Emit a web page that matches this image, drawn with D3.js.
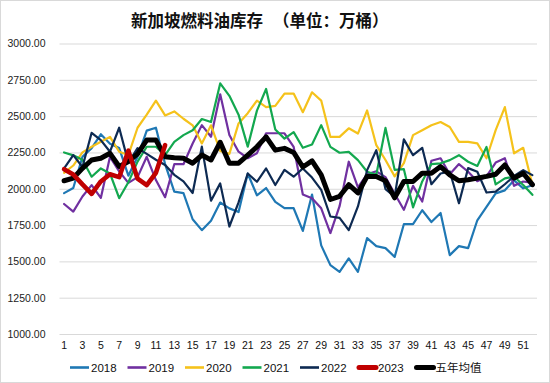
<!DOCTYPE html>
<html>
<head>
<meta charset="utf-8">
<script src="https://cdn.jsdelivr.net/npm/d3@7"></script>
<style>
html,body{margin:0;padding:0;background:#fff;}
svg{display:block;}
text{font-family:"Liberation Sans",Arial,"Noto Sans CJK SC",sans-serif;}
</style>
</head>
<body>
<svg id="chart" width="550" height="383"></svg>
<script>
const titleMain = "新加坡燃料油库存";
const titleUnit = "（单位：万桶）";
const weeks = d3.range(1, 53);
const xTickLabels = d3.range(1, 53, 2);
const yTicks = [1000, 1250, 1500, 1750, 2000, 2250, 2500, 2750, 3000];

const s2018 = [1970,2005,2220,2280,2375,2310,2280,2090,2220,2400,2420,2170,1980,1970,1790,1715,1780,1905,1865,1840,2105,1955,2005,1910,1866,1866,1710,1960,1610,1474,1428,1520,1428,1660,1605,1591,1531,1756,1756,1852,1771,1833,1543,1605,1591,1783,1875,1968,1989,2058,2003,2024];
const s2019 = [1895,1843,1947,2025,1937,2220,2120,2040,2080,2220,2060,1942,2169,2169,2312,2438,2358,2650,2370,2255,2210,2245,2382,2382,2382,2288,1960,1935,1865,1695,1880,2186,2010,2100,2120,2080,1965,1855,2020,1912,2193,2210,2100,2170,2117,2052,2085,2180,2210,2020,2050,2040];
const s2020 = [2110,2160,2250,2289,2323,2357,2255,2232,2420,2510,2607,2505,2532,2482,2437,2312,2437,2260,2240,2450,2520,2607,2562,2570,2655,2655,2527,2664,2607,2357,2357,2416,2380,2539,2300,2198,2085,2176,2369,2403,2437,2459,2425,2323,2323,2312,2210,2403,2562,2244,2282,2028];
const s2021 = [2250,2230,2200,2083,2140,2105,1935,2045,2187,2289,2289,2232,2323,2369,2403,2480,2459,2725,2640,2510,2290,2538,2687,2408,2345,2390,2282,2305,2438,2288,2248,2254,2197,2117,2096,2419,2130,2135,1872,2050,2170,2175,2197,2231,2186,2157,2288,2030,2071,2083,2026,1958];
const s2022 = [2140,2232,2150,2385,2335,2255,2420,2180,2280,2240,2200,2164,2096,2051,1971,2290,1918,2037,1740,1906,2105,2048,2140,2026,2130,2083,2140,2077,1992,1809,1800,1715,1878,2128,2265,1998,1946,2340,2231,2282,2031,2105,2119,1900,2142,2117,1974,1980,2031,2088,2128,2094];
const s2023 = [2135,2098,2030,1965,2050,2100,2080,2262,2070,2025,2110,2300];
const sAvg = [2055,2073,2141,2198,2210,2244,2153,2187,2240,2335,2335,2221,2214,2210,2176,2232,2198,2320,2176,2176,2232,2289,2357,2266,2278,2250,2150,2192,2096,1926,1948,2028,1971,2085,2085,2055,1937,2050,2050,2107,2107,2153,2096,2055,2062,2073,2085,2100,2164,2073,2107,2028];

const seriesNames = ["2018","2019","2020","2021","2022","2023","五年均值"];
const seriesValues = [s2018, s2019, s2020, s2021, s2022, s2023, sAvg];
const seriesColors = ["#1F78B4","#7030A0","#F5C21B","#13A84F","#0D2A52","#C00000","#000000"];
const seriesWidths = [2.2, 2.2, 2.2, 2.2, 2.2, 4.6, 5];

const svg = d3.select("#chart");
const W = 550, H = 383;

svg.append("rect").attr("x",0.5).attr("y",0.5).attr("width",W-1).attr("height",H-1)
  .attr("fill","#fff").attr("stroke","#d9d9d9");

const x = d3.scaleBand().domain(weeks).range([59.5, 537]).padding(0);
const xc = w => x(w) + x.bandwidth()/2;
const y = d3.scaleLinear().domain([1000, 3000]).range([334, 43.5]);

// title
const t = svg.append("text").attr("x", 131).attr("y", 20)
  .attr("dominant-baseline","central")
  .style("font-family","'Noto Sans CJK SC',sans-serif").style("font-weight","bold")
  .style("font-size","16.5px").attr("fill","#111");
t.append("tspan").text(titleMain);
t.append("tspan").attr("dx", 10).text(titleUnit);

// gridlines + y axis
const yAxis = d3.axisLeft(y).tickValues(yTicks).tickSize(-(537-59.5)).tickPadding(14)
  .tickFormat(d3.format(".2f"));
const gy = svg.append("g").attr("transform","translate(59.5,0)").call(yAxis);
gy.select(".domain").remove();
gy.selectAll(".tick line").attr("stroke","#d9d9d9").attr("stroke-width",1);
gy.selectAll(".tick text").attr("fill","#222").style("font-size","10.5px")
  .style("font-family","'Liberation Sans',Arial,sans-serif");

// x axis labels
const xAxis = d3.axisBottom(x).tickValues(xTickLabels).tickSize(0).tickPadding(8);
const gx = svg.append("g").attr("transform","translate(0,334)").call(xAxis);
gx.select(".domain").remove();
gx.selectAll(".tick text").attr("fill","#111").style("font-size","10.5px")
  .style("font-family","'Liberation Sans',Arial,sans-serif");

// lines
const line = d3.line().x((d,i) => xc(weeks[i])).y(d => y(d)).curve(d3.curveLinear);
const order = [0,1,2,3,4,6,5];
order.forEach(k => {
  svg.append("path").datum(seriesValues[k])
    .attr("fill","none").attr("stroke",seriesColors[k])
    .attr("stroke-width",seriesWidths[k])
    .attr("stroke-linejoin","round").attr("stroke-linecap","round")
    .attr("d", line);
});

// legend
const legX = [70, 127.5, 185, 242.5, 300, 357, 414.5];
const lg = svg.append("g");
seriesNames.forEach((n,i) => {
  const g = lg.append("g").attr("transform",`translate(${legX[i]},367.5)`);
  const thick = seriesWidths[i] > 3;
  g.append("line").attr("x1", thick ? 2 : 0).attr("x2", 19).attr("y1",0).attr("y2",0)
    .attr("stroke",seriesColors[i]).attr("stroke-width", thick ? 5 : 2.6)
    .attr("stroke-linecap", thick ? "round" : "butt");
  g.append("text").attr("x",21).attr("y",0).attr("dominant-baseline","central")
    .style("font-size","11.5px").attr("fill","#111").text(n);
});
</script>
</body>
</html>
